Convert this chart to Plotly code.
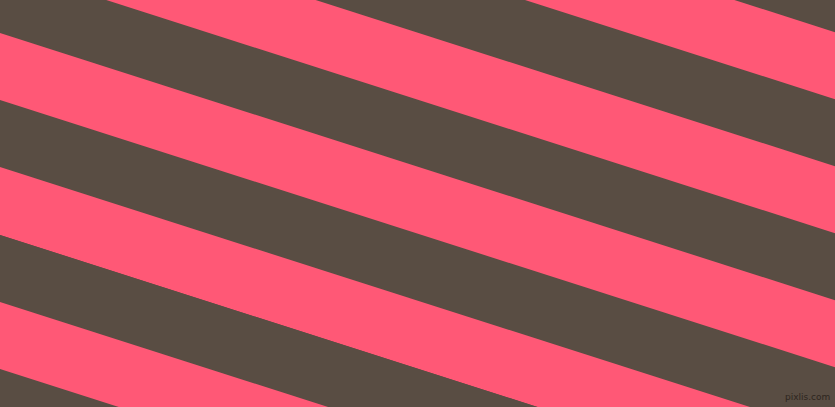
import plotly.graph_objects as go

# canvas size of the swatch
WIDTH, HEIGHT = 835, 407

# stripe slope (pixels down per pixel across) and where each stripe starts on the left edge
slope = 0.32
stripe_starts = [-302, -235, -168, -101, -34, 33, 100, 167, 235, 302, 369, 437]
stripe_colors = ['#594D43', '#FF5876', '#594D43', '#FF5876', '#594D43', '#FF5876',
                 '#594D43', '#FF5876', '#594D43', '#FF5876', '#594D43', '#FF5876']
stripe_height = 68

fig = go.Figure()
for start, color in zip(stripe_starts, stripe_colors):
    top_l, top_r = start, start + slope * WIDTH
    bot_l, bot_r = start + stripe_height, start + stripe_height + slope * WIDTH
    fig.add_trace(go.Scatter(x=[0, WIDTH, WIDTH, 0, 0], y=[top_l, top_r, bot_r, bot_l, top_l],
                             mode='lines', fill='toself', fillcolor=color,
                             line=dict(width=0, color=color), hoverinfo='skip', showlegend=False))

fig.add_annotation(x=WIDTH - 3, y=HEIGHT - 3, xref='x', yref='y', xanchor='right', yanchor='bottom',
                   text='pixlis.com', showarrow=False,
                   font=dict(family='DejaVu Sans, sans-serif', size=9, color='#2e2620'))

fig.update_xaxes(range=[0, WIDTH], visible=False, fixedrange=True)
fig.update_yaxes(range=[HEIGHT, 0], visible=False, fixedrange=True)
fig.update_layout(width=WIDTH, height=HEIGHT, autosize=False,
                  margin=dict(l=0, r=0, t=0, b=0),
                  paper_bgcolor='#594D43', plot_bgcolor='#594D43')

# drop the browser's default page margin so the swatch fills the window
fig.write_html("out.html", config={'displayModeBar': False},
               post_script="document.body.style.margin='0';document.body.style.overflow='hidden';")
